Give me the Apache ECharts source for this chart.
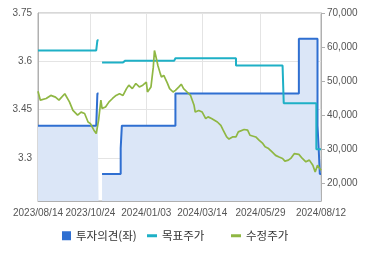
<!DOCTYPE html>
<html><head><meta charset="utf-8">
<script src="https://cdn.jsdelivr.net/npm/echarts@6/dist/echarts.min.js"></script>
<style>html,body{margin:0;padding:0;background:#fff;}#c{width:370px;height:255px;}</style>
</head><body><div id="c"></div>
<script>
// Trading-day categories (KRX), first and last day, market holidays
const startDay = '2023-08-14';
const endDay = '2024-08-12';
const holidays = ['2023-08-15','2023-09-28','2023-09-29','2023-10-02','2023-10-03','2023-10-09','2023-12-25','2023-12-29','2024-01-01','2024-02-09','2024-02-12','2024-03-01','2024-04-10','2024-05-01','2024-05-06','2024-05-15','2024-06-06'];
const labelDates = ['2023/08/14','2023/10/24','2024/01/03','2024/03/14','2024/05/29','2024/08/12'];

// 수정주가 (adjusted price): trading-day index and value
const priceIdx = [0,2,7,11,15,18,23,27,30,34,37,40,43,45,48,50,52,54,55,58,61,64,67,70,73,76,78,81,84,87,90,93,94,97,99,100,101,103,105,106,108,111,113,116,118,121,123,125,128,131,134,135,138,141,144,146,149,154,157,159,162,164,167,170,172,177,180,182,187,190,193,195,198,201,204,207,210,212,215,217,220,224,227,230,233,236,238,240,242,243];
const priceVal = [47000,44400,44900,45800,45300,44400,46300,43900,41400,40000,40900,40500,38000,37500,35600,34600,38500,44400,42000,42400,43900,44900,45800,46300,45800,47800,48800,47800,49300,48300,48800,49700,46800,48300,54100,59000,57600,54500,52200,51200,51700,49500,47800,46800,47300,48300,49100,47800,46800,45800,42900,40900,41400,40900,39000,39500,39000,38000,37000,35600,33600,33000,33600,33600,35100,35800,35600,34100,33600,32600,31700,30700,30200,29200,28200,27700,27300,26500,26800,27300,28700,28500,27300,26300,26800,25300,23300,25300,24300,23800];

// 투자의견(좌) steps: index where a value starts, and the value (null = no data)
const opinionStart = [0,51,52,55,71,72,118,224,240,241,242];
const opinionVal = [3.4,3.5,null,3.25,3.33,3.4,3.5,3.67,3.4,3.33,3.25];

// 목표주가 steps
const targetStart = [0,51,52,55,73,118,170,211,239];
const targetVal = [59000,62000,null,55500,56000,56700,54600,43500,30000];

const leftTicks = [3.3,3.45,3.6,3.75];
const rightTicks = [20000,30000,40000,50000,60000,70000];

function fmt(d){const m=d.getUTCMonth()+1, dd=d.getUTCDate();return d.getUTCFullYear()+'/'+(m<10?'0':'')+m+'/'+(dd<10?'0':'')+dd;}
const cats = [];
{
  const hol = new Set(holidays);
  const d = new Date(startDay+'T00:00:00Z'), e = new Date(endDay+'T00:00:00Z');
  while (d <= e) {
    const wd = d.getUTCDay();
    const iso = d.toISOString().slice(0,10);
    if (wd !== 0 && wd !== 6 && !hol.has(iso)) cats.push(fmt(d));
    d.setUTCDate(d.getUTCDate()+1);
  }
}
function stepSeries(starts, vals){
  const out = [];
  for (let i=0;i<cats.length;i++){
    let v = null;
    for (let k=0;k<starts.length;k++){ if (starts[k] <= i) v = vals[k]; }
    out.push(v);
  }
  return out;
}
const opinionData = stepSeries(opinionStart, opinionVal);
const targetData = stepSeries(targetStart, targetVal);
const priceData = priceIdx.map((i,k)=>[i, priceVal[k]]);

const labelSet = new Set(labelDates);
const showLabel = (idx, val) => labelSet.has(val);
const font = 'Liberation Sans, Arial, sans-serif';
const legText = {color:'#333', fontSize:11.5, fontFamily:'Noto Sans CJK KR'};
const barIcon = 'path://M0,0H10V3H0Z';

const chart = echarts.init(document.getElementById('c'), null, {renderer:'canvas'});
chart.setOption({
  animation:false,
  grid:{left:38, right:49, top:13, bottom:54, show:true, borderColor:'#b0b0b0', borderWidth:1},
  xAxis:{type:'category', data:cats, boundaryGap:false,
    axisLine:{lineStyle:{color:'#b0b0b0'}}, axisTick:{show:false},
    axisLabel:{interval:showLabel, color:'#555', fontSize:10, fontFamily:font, margin:7, showMinLabel:true, showMaxLabel:true},
    splitLine:{show:true, interval:showLabel, lineStyle:{color:'#e4e4e4'}}},
  yAxis:[
    {type:'value', min:3.166, max:3.75, position:'left',
     axisLine:{show:true, lineStyle:{color:'#b0b0b0'}}, axisTick:{show:false, customValues:leftTicks},
     axisLabel:{customValues:leftTicks, color:'#555', fontSize:10, fontFamily:font, margin:6},
     splitLine:{show:true, lineStyle:{color:'#e4e4e4'}}},
    {type:'value', min:14800, max:70000, position:'right',
     axisLine:{show:true, lineStyle:{color:'#b0b0b0'}}, axisTick:{show:true, length:4, customValues:rightTicks, lineStyle:{color:'#b0b0b0'}},
     axisLabel:{customValues:rightTicks, color:'#555', fontSize:10, fontFamily:font, margin:6,
       formatter:v=>v.toLocaleString('en-US')},
     splitLine:{show:false}}
  ],
  legend:[
    {left:62, top:230, padding:0, itemWidth:9, itemHeight:9, data:[{name:'투자의견(좌)', icon:'rect', itemStyle:{color:'#2f6fd1'}}], textStyle:legText},
    {left:147, top:230, padding:0, itemWidth:10, itemHeight:3, data:[{name:'목표주가', icon:barIcon, itemStyle:{color:'#1eb0c6', borderWidth:0}}], textStyle:legText},
    {left:231, top:230, padding:0, itemWidth:10, itemHeight:3, data:[{name:'수정주가', icon:barIcon, itemStyle:{color:'#8fb743', borderWidth:0}}], textStyle:legText}
  ],
  series:[
    {name:'투자의견(좌)', type:'line', yAxisIndex:0, data:opinionData, step:'end', showSymbol:false, symbol:'none',
     itemStyle:{color:'#2f6fd1'}, lineStyle:{color:'#2f6fd1', width:2},
     areaStyle:{color:'#dbe6f7', opacity:1, origin:'start'}},
    {name:'목표주가', type:'line', yAxisIndex:1, data:targetData, step:'end', showSymbol:false, symbol:'none',
     itemStyle:{color:'#1eb0c6'}, lineStyle:{color:'#1eb0c6', width:2}},
    {name:'수정주가', type:'line', yAxisIndex:1, data:priceData, showSymbol:false, symbol:'none',
     itemStyle:{color:'#8fb743'}, lineStyle:{color:'#8fb743', width:1.7}}
  ]
});
</script></body></html>
